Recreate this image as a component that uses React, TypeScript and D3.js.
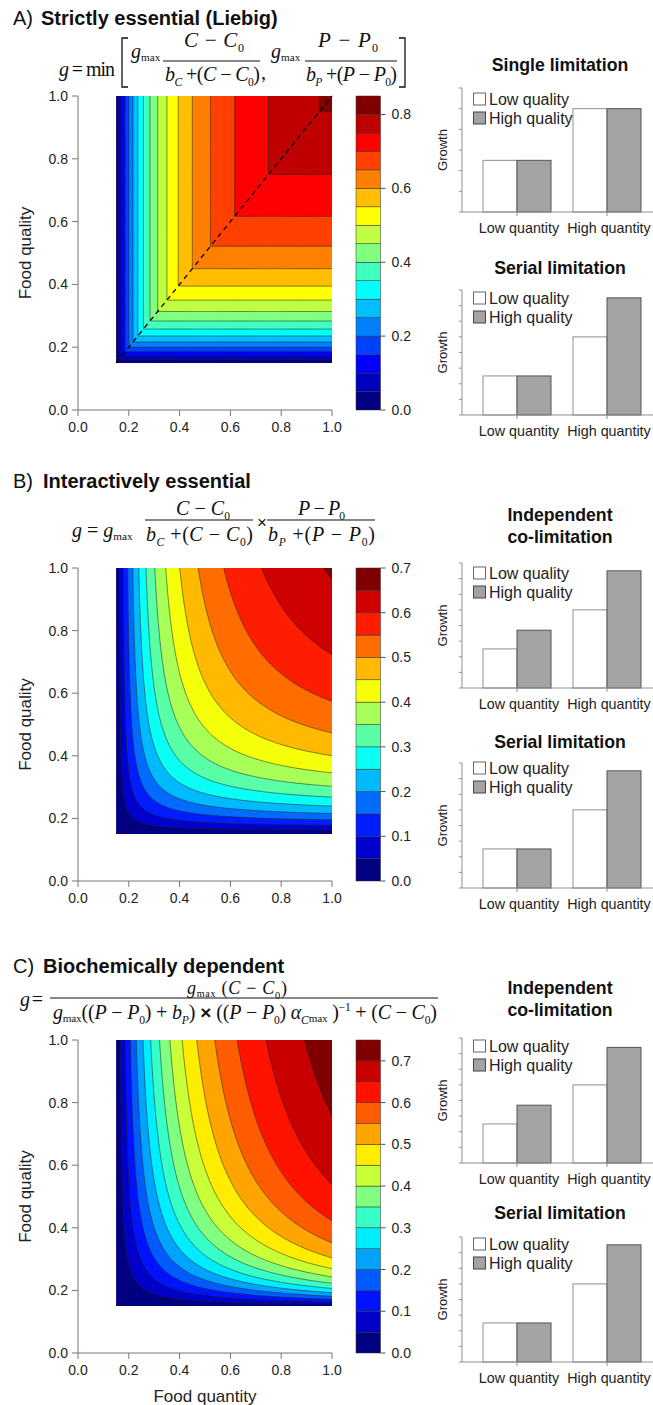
import React from "react";
import * as d3 from "d3";

const SANS = "'Liberation Sans', Arial, Helvetica, sans-serif";
const SERIF = "'Liberation Serif', 'Times New Roman', Times, serif";

// ---- model parameters ----
const C0 = 0.15;
const P0 = 0.15;
const gMax = 1;
const bC = 0.2;
const bP = 0.2;
const bPBio = 0.5;
const alphaCmax = 5;

// ---- contour levels / colorbar ticks ----
const levelsA = [0, 0.05, 0.1, 0.15, 0.2, 0.25, 0.3, 0.35, 0.4, 0.45, 0.5, 0.55, 0.6, 0.65, 0.7, 0.75, 0.8, 0.85];
const levelsB = [0, 0.05, 0.1, 0.15, 0.2, 0.25, 0.3, 0.35, 0.4, 0.45, 0.5, 0.55, 0.6, 0.65, 0.7];
const levelsC = [0, 0.05, 0.1, 0.15, 0.2, 0.25, 0.3, 0.35, 0.4, 0.45, 0.5, 0.55, 0.6, 0.65, 0.7, 0.75];
const cbTicksA = [0, 0.2, 0.4, 0.6, 0.8];
const cbTicksB = [0, 0.1, 0.2, 0.3, 0.4, 0.5, 0.6, 0.7];
const cbTicksC = [0, 0.1, 0.2, 0.3, 0.4, 0.5, 0.6, 0.7];
const axisTicks = [0, 0.2, 0.4, 0.6, 0.8, 1.0];

// ---- bar charts ----
const quantityGroups = ["Low quantity", "High quantity"];
const qualityKeys = ["Low quality", "High quality"];
const singleLowQ = [2.5, 5];
const singleHighQ = [2.5, 5];
const serialLowQ = [2.5, 5];
const serialHighQ = [2.5, 7.5];
const indepBLowQ = [2.5, 5];
const indepBHighQ = [3.7, 7.5];
const indepCLowQ = [2.5, 5];
const indepCHighQ = [3.7, 7.4];
const singleMax = 6;
const otherMax = 8;

const mm = (x: number, b: number) => (gMax * x) / (b + x);
const liebig = (C: number, P: number) => Math.min(mm(C - C0, bC), mm(P - P0, bP));
const interactive = (C: number, P: number) =>
  gMax * ((C - C0) / (bC + (C - C0))) * ((P - P0) / (bP + (P - P0)));
const biochem = (C: number, P: number) => {
  const c = C - C0;
  const p = P - P0;
  return (gMax * c) / ((gMax * (p + bPBio)) / (p * alphaCmax) + c);
};

function jet(t: number) {
  const cl = (v: number) => Math.max(0, Math.min(1, v));
  const r = cl(Math.min(4 * t - 1.5, -4 * t + 4.5));
  const g = cl(Math.min(4 * t - 0.5, -4 * t + 3.5));
  const b = cl(Math.min(4 * t + 0.5, -4 * t + 2.5));
  return d3.rgb(r * 255, g * 255, b * 255).formatHex();
}

// kinds: i italic, r roman, s roman subscript, si italic subscript, m "max" subscript, p superscript, x sans times
type Seg = [string, string?];
function MathText({ x, y, segs, size, width }: { x: number; y: number; segs: Seg[]; size: number; width?: number }) {
  let shift = 0;
  const kids = segs.map(([t, k = "r"], i) => {
    let target = 0;
    let fs = size;
    if (k === "s" || k === "si") {
      target = size * 0.25;
      fs = size * 0.58;
    } else if (k === "m") {
      target = size * 0.15;
      fs = size * 0.56;
    } else if (k === "p") {
      target = -size * 0.38;
      fs = size * 0.58;
    } else if (k === "x") {
      fs = size * 0.95;
    }
    const dy = target - shift;
    shift = target;
    return (
      <tspan
        key={i}
        dy={dy}
        fontStyle={k === "i" || k === "si" ? "italic" : "normal"}
        fontSize={fs}
        fontFamily={k === "x" ? SANS : undefined}
        fontWeight={k === "x" ? "bold" : undefined}
      >
        {t}
      </tspan>
    );
  });
  return (
    <text
      x={x}
      y={y}
      fontFamily={SERIF}
      fontSize={size}
      fill="#111"
      style={{ whiteSpace: "pre" }}
      {...(width ? { textLength: width, lengthAdjust: "spacing" } : {})}
    >
      {kids}
    </text>
  );
}

function ContourPanel({
  id,
  top,
  height,
  fn,
  levels,
  cbTicks,
  dashed,
  xLabel,
}: {
  id: string;
  top: number;
  height: number;
  fn: (C: number, P: number) => number;
  levels: number[];
  cbTicks: number[];
  dashed?: boolean;
  xLabel?: boolean;
}) {
  const left = 78;
  const right = 332;
  const bottom = top + height;
  const x = d3.scaleLinear().domain([0, 1]).range([left, right]);
  const y = d3.scaleLinear().domain([0, 1]).range([bottom, top]);
  const nb = levels.length - 1;
  const colors = d3.range(nb).map((i) => jet(i / (nb - 1)));

  const step = 0.004;
  const start = C0 - 2 * step;
  const n = Math.ceil((1 + 2 * step - start) / step) + 1;
  const values: number[] = new Array(n * n);
  for (let j = 0; j < n; j++) {
    const P = start + j * step;
    for (let i = 0; i < n; i++) {
      const C = start + i * step;
      values[j * n + i] = C < C0 - 1e-9 || P < P0 - 1e-9 ? -1 : fn(Math.max(C, C0), Math.max(P, P0));
    }
  }
  const contours = d3.contours().size([n, n]).thresholds(levels.slice(0, nb))(values);
  const toPath = (mp: any) =>
    mp.coordinates
      .map((poly: number[][][]) =>
        poly
          .map(
            (ring) =>
              "M" +
              ring
                .map((p) => {
                  const px = x(start + (p[0] - 0.5) * step);
                  const py = y(start + (p[1] - 0.5) * step);
                  return px.toFixed(2) + "," + py.toFixed(2);
                })
                .join("L") +
              "Z"
          )
          .join("")
      )
      .join("");
  const paths = contours.map(toPath);

  const cbLeft = 356;
  const cbRight = 380.5;
  const cy = d3.scaleLinear().domain([levels[0], levels[nb]]).range([bottom, top]);
  const axisColor = "#777";

  return (
    <g>
      <defs>
        <clipPath id={id}>
          <rect x={x(C0)} y={y(1)} width={x(1) - x(C0)} height={y(P0) - y(1)} />
        </clipPath>
      </defs>
      <g clipPath={`url(#${id})`}>
        {paths.map((d, k) => (
          <path key={"f" + k} d={d} fill={colors[k]} fillRule="evenodd" stroke="none" />
        ))}
        {paths.map((d, k) =>
          k === 0 ? null : <path key={"s" + k} d={d} fill="none" stroke="#222" strokeWidth={0.55} />
        )}
      </g>
      {dashed && (
        <line
          x1={x(C0)}
          y1={y(P0)}
          x2={x(1)}
          y2={y(1)}
          stroke="#000"
          strokeWidth={1.3}
          strokeDasharray="5,4"
        />
      )}
      {/* axes */}
      <line x1={left} x2={left} y1={y(0)} y2={y(1)} stroke={axisColor} strokeWidth={1} />
      <line x1={x(0)} x2={x(1)} y1={bottom} y2={bottom} stroke={axisColor} strokeWidth={1} />
      {axisTicks.map((t) => (
        <g key={"y" + t}>
          <line x1={left - 6} x2={left} y1={y(t)} y2={y(t)} stroke={axisColor} />
          <text x={left - 10} y={y(t) + 5} textAnchor="end" fontFamily={SANS} fontSize={14} fill="#222">
            {t.toFixed(1)}
          </text>
        </g>
      ))}
      {axisTicks.map((t) => (
        <g key={"x" + t}>
          <line x1={x(t)} x2={x(t)} y1={bottom} y2={bottom + 6} stroke={axisColor} />
          <text x={x(t)} y={bottom + 22} textAnchor="middle" fontFamily={SANS} fontSize={14} fill="#222">
            {t.toFixed(1)}
          </text>
        </g>
      ))}
      <text
        transform={`translate(31,${(top + bottom) / 2}) rotate(-90)`}
        textAnchor="middle"
        fontFamily={SANS}
        fontSize={17}
        fill="#222"
      >
        Food quality
      </text>
      {xLabel && (
        <text x={(left + right) / 2} y={bottom + 49} textAnchor="middle" fontFamily={SANS} fontSize={17} fill="#222">
          Food quantity
        </text>
      )}
      {/* colorbar */}
      {d3.range(nb).map((i) => (
        <rect
          key={"cb" + i}
          x={cbLeft}
          width={cbRight - cbLeft}
          y={cy(levels[i + 1])}
          height={cy(levels[i]) - cy(levels[i + 1])}
          fill={colors[i]}
          stroke="#333"
          strokeWidth={0.5}
        />
      ))}
      {cbTicks.map((t) => (
        <g key={"cbt" + t}>
          <line x1={cbRight} x2={cbRight + 5} y1={cy(t)} y2={cy(t)} stroke="#555" />
          <text x={cbRight + 11} y={cy(t) + 5} fontFamily={SANS} fontSize={14} fill="#222">
            {t.toFixed(1)}
          </text>
        </g>
      ))}
    </g>
  );
}

function BarChart({
  titles,
  top,
  bottom,
  yMax,
  lowQ,
  highQ,
  legendY,
}: {
  titles: [string, number][];
  top: number;
  bottom: number;
  yMax: number;
  lowQ: number[];
  highQ: number[];
  legendY: number;
}) {
  const axisX = 462;
  const yS = d3.scaleLinear().domain([0, yMax]).range([bottom, top]);
  const xC = d3.scalePoint().domain(quantityGroups).range([517, 607]);
  const xQ = d3.scaleBand().domain(qualityKeys).range([-34, 34]);
  const series = [lowQ, highQ];
  const fills = ["#ffffff", "#a3a3a3"];
  const strokes = ["#8f8f8f", "#555"];
  const axisColor = "#8f8f8f";
  return (
    <g>
      {titles.map(([t, ty]) => (
        <text key={t} x={560} y={ty} textAnchor="middle" fontFamily={SANS} fontWeight="bold" fontSize={17.7} fill="#111">
          {t}
        </text>
      ))}
      {qualityKeys.map((q, qi) =>
        quantityGroups.map((g, gi) => {
          const v = series[qi][gi];
          const bx = (xC(g) as number) + (xQ(q) as number);
          return (
            <rect
              key={q + g}
              x={bx}
              y={yS(v)}
              width={xQ.bandwidth()}
              height={bottom - yS(v)}
              fill={fills[qi]}
              stroke={strokes[qi]}
              strokeWidth={1}
            />
          );
        })
      )}
      <line x1={axisX} x2={axisX} y1={top} y2={bottom} stroke={axisColor} />
      <line x1={axisX - 3} x2={660} y1={bottom} y2={bottom} stroke={axisColor} />
      {d3.range(1, yMax + 1).map((t) => (
        <line key={t} x1={axisX - 3} x2={axisX} y1={yS(t)} y2={yS(t)} stroke={axisColor} />
      ))}
      {quantityGroups.map((g) => (
        <g key={g}>
          <line x1={xC(g)} x2={xC(g)} y1={bottom} y2={bottom + 4} stroke={axisColor} />
          <text x={(xC(g) as number) + 2} y={bottom + 21} textAnchor="middle" fontFamily={SANS} fontSize={14.3} fill="#222">
            {g}
          </text>
        </g>
      ))}
      <text
        transform={`translate(446.5,${(top + bottom) / 2}) rotate(-90)`}
        textAnchor="middle"
        fontFamily={SANS}
        fontSize={13}
        fill="#222"
      >
        Growth
      </text>
      {qualityKeys.map((q, qi) => (
        <g key={q}>
          <rect x={473.5} y={legendY + qi * 19 - 6} width={12} height={12} fill={fills[qi]} stroke={qi ? "#444" : "#666"} />
          <text x={489} y={legendY + qi * 19 + 6} fontFamily={SANS} fontSize={16} fill="#222">
            {q}
          </text>
        </g>
      ))}
    </g>
  );
}

function Bracket({ x, y1, y2, dir }: { x: number; y1: number; y2: number; dir: number }) {
  return (
    <path
      d={`M${x + dir * 6},${y1} H${x} V${y2} H${x + dir * 6}`}
      fill="none"
      stroke="#111"
      strokeWidth={1.3}
    />
  );
}

export default function App() {
  const num = (v: string): Seg[] => [[v, "i"], [" − "], [v, "i"], ["0", "s"]];
  const den = (v: string): Seg[] => [["b", "i"], [v, "si"], [" +("], [v, "i"], [" − "], [v, "i"], ["0", "s"], [")"]];
  const gm: Seg[] = [["g", "i"], ["max", "m"]];
  return (
    <svg
      width={653}
      height={1405}
      style={{ position: "absolute", left: 0, top: 0, background: "#fff" }}
      xmlns="http://www.w3.org/2000/svg"
    >
      <rect x={0} y={0} width={653} height={1405} fill="#fff" />

      {/* ---------- Panel A ---------- */}
      <text x={13} y={25} fontFamily={SANS} fontSize={20} fill="#111">A)</text>
      <text x={41} y={25} fontFamily={SANS} fontSize={20} fontWeight="bold" fill="#111">Strictly essential (Liebig)</text>
      <MathText x={59} y={76} size={20} width={56} segs={[["g", "i"], [" = "], ["min"]]} />
      <Bracket x={122} y1={38} y2={87} dir={1} />
      <MathText x={131} y={58} size={20} segs={gm} />
      <MathText x={184} y={47} size={21} width={60} segs={num("C")} />
      <line x1={163} x2={260} y1={61} y2={61} stroke="#111" strokeWidth={1.1} />
      <MathText x={165} y={81} size={20} width={95} segs={den("C")} />
      <MathText x={261} y={79} size={20} segs={[[","]]} />
      <MathText x={271} y={58} size={20} segs={gm} />
      <MathText x={318} y={47} size={21} width={60} segs={num("P")} />
      <line x1={305} x2={397} y1={61} y2={61} stroke="#111" strokeWidth={1.1} />
      <MathText x={306} y={81} size={20} width={91} segs={den("P")} />
      <Bracket x={405} y1={38} y2={87} dir={-1} />

      <ContourPanel id="clipA" top={96} height={314} fn={liebig} levels={levelsA} cbTicks={cbTicksA} dashed />

      <BarChart titles={[["Single limitation", 71]]} top={88} bottom={212} yMax={singleMax} lowQ={singleLowQ} highQ={singleHighQ} legendY={99} />
      <BarChart titles={[["Serial limitation", 274]]} top={290} bottom={415} yMax={otherMax} lowQ={serialLowQ} highQ={serialHighQ} legendY={298} />

      {/* ---------- Panel B ---------- */}
      <text x={13} y={488} fontFamily={SANS} fontSize={20} fill="#111">B)</text>
      <text x={43} y={488} fontFamily={SANS} fontSize={20} fontWeight="bold" fill="#111">Interactively essential</text>
      <MathText x={72} y={537} size={20} segs={[["g", "i"], [" = "], ["g", "i"], ["max", "m"]]} />
      <MathText x={176} y={515} size={20} width={54} segs={num("C")} />
      <line x1={145} x2={253} y1={520} y2={520} stroke="#111" strokeWidth={1.1} />
      <MathText x={146} y={541} size={20} width={107} segs={den("C")} />
      <text x={262} y={528} textAnchor="middle" fontFamily={SANS} fontSize={17} fill="#111">×</text>
      <MathText x={298} y={515} size={20} width={47} segs={num("P")} />
      <line x1={267} x2={375} y1={520} y2={520} stroke="#111" strokeWidth={1.1} />
      <MathText x={268} y={541} size={20} width={107} segs={den("P")} />

      <ContourPanel id="clipB" top={568} height={313} fn={interactive} levels={levelsB} cbTicks={cbTicksB} />

      <BarChart
        titles={[["Independent", 521], ["co-limitation", 543]]}
        top={563}
        bottom={688}
        yMax={otherMax}
        lowQ={indepBLowQ}
        highQ={indepBHighQ}
        legendY={573}
      />
      <BarChart titles={[["Serial limitation", 748]]} top={763} bottom={888} yMax={otherMax} lowQ={serialLowQ} highQ={serialHighQ} legendY={768} />

      {/* ---------- Panel C ---------- */}
      <text x={13} y={973} fontFamily={SANS} fontSize={20} fill="#111">C)</text>
      <text x={43} y={973} fontFamily={SANS} fontSize={20} fontWeight="bold" fill="#111">Biochemically dependent</text>
      <MathText x={20} y={1006} size={20} width={23} segs={[["g", "i"], [" ="]]} />
      <MathText
        x={187}
        y={994}
        size={18}
        width={100}
        segs={[["g", "i"], ["max", "m"], [" ("], ["C", "i"], [" − "], ["C", "i"], ["0", "s"], [")"]]}
      />
      <line x1={50} x2={438} y1={998} y2={998} stroke="#111" strokeWidth={1.1} />
      <MathText
        x={53}
        y={1019}
        size={20}
        width={384}
        segs={[
          ["g", "i"], ["max", "m"], ["(("], ["P", "i"], [" − "], ["P", "i"], ["0", "s"], [") + "], ["b", "i"], ["P", "si"],
          [")"], [" × ", "x"], ["(("], ["P", "i"], [" − "], ["P", "i"], ["0", "s"], [") "], ["α", "i"], ["C", "si"], ["max", "m"],
          [" )"], ["−1", "p"], [" + ("], ["C", "i"], [" − "], ["C", "i"], ["0", "s"], [")"],
        ]}
      />

      <ContourPanel id="clipC" top={1040} height={313} fn={biochem} levels={levelsC} cbTicks={cbTicksC} xLabel />

      <BarChart
        titles={[["Independent", 994], ["co-limitation", 1016]]}
        top={1038}
        bottom={1163}
        yMax={otherMax}
        lowQ={indepCLowQ}
        highQ={indepCHighQ}
        legendY={1046}
      />
      <BarChart titles={[["Serial limitation", 1219]]} top={1237} bottom={1362} yMax={otherMax} lowQ={serialLowQ} highQ={serialHighQ} legendY={1244} />
    </svg>
  );
}
